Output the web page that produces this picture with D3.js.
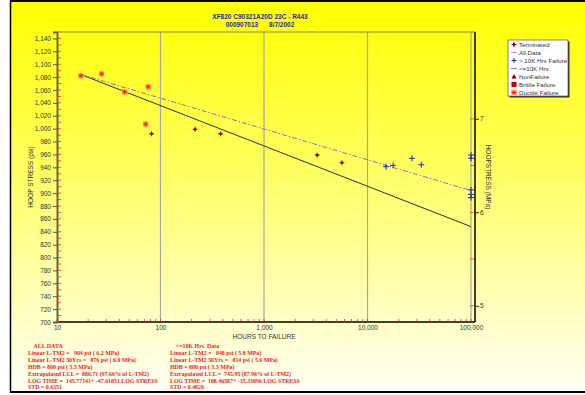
<!DOCTYPE html>
<html>
<head>
<meta charset="utf-8">
<script src="https://cdn.jsdelivr.net/npm/d3@7"></script>
<style>
  body { margin: 0; background: #fff; }
  svg { display: block; }
</style>
</head>
<body>
<div id="chart"></div>
<script>
// ---- data ----
const ductileHours = [17, 27, 45, 76, 72];
const ductilePsi   = [1082, 1085, 1057, 1065, 1007];

const terminatedHours = [82, 216, 381, 3266, 5660];
const terminatedPsi   = [992, 999, 992, 959, 947];

const over10kHours = [15100, 17660, 26900, 33100, 100000, 100000, 100000, 100000, 100000];
const over10kPsi   = [941, 943, 954, 944, 959, 954, 905, 898, 893];

// regression lines (end points)
const allDataLine  = [[17, 1084], [100000, 904]];
const under10kLine = [[17, 1084], [100000, 848]];

const psiTicks = d3.range(700, 1141, 20);
const mpaTicks = [5, 6, 7];
const hourTicks = [10, 100, 1000, 10000, 100000];

const legendItems = ["Terminated", "All Data", "> 10K Hrs Failure", "<=10K Hrs",
                     "NonFailure", "Brittle Failure", "Ductile Failure"];

const notesLeft = [
  "    ALL DATA",
  "Linear L-TM2 =   904 psi ( 6.2 MPa)",
  "Linear L-TM2 50Yrs =   876 psi ( 6.0 MPa)",
  "HDB = 800 psi ( 5.5 MPa)",
  "Extrapolated LCL =  886.71 (97.66% of L-TM2)",
  "LOG TIME =  145.77141+ -47.61851 LOG STRESS",
  "STD = 0.6351"
];
const notesRight = [
  "    <=10K Hrs. Data",
  "Linear L-TM2 =   848 psi ( 5.8 MPa)",
  "Linear L-TM2 50Yrs =   814 psi ( 5.6 MPa)",
  "HDB = 800 psi ( 5.5 MPa)",
  "Extrapolated LCL =  745.95 (87.96% of L-TM2)",
  "LOG TIME =  108.46587+ -35.33096 LOG STRESS",
  "STD = 0.4820"
];

// ---- layout ----
const W = 585, H = 395;
const plotL = 57, plotR = 471, plotT = 32, plotB = 322;
const SANS = "Arial, 'Liberation Sans', sans-serif";

const svg = d3.select("#chart").append("svg")
  .attr("width", W).attr("height", H)
  .attr("font-family", SANS);

const defs = svg.append("defs");
const grad = defs.append("linearGradient").attr("id", "bg")
  .attr("x1", 0).attr("y1", 0).attr("x2", 0).attr("y2", 1);
grad.append("stop").attr("offset", "0%").attr("stop-color", "#ffff00");
grad.append("stop").attr("offset", "45%").attr("stop-color", "#ffff66");
grad.append("stop").attr("offset", "100%").attr("stop-color", "#fffff6");

// panel
svg.append("rect").attr("x", 11).attr("y", 1).attr("width", W - 11).attr("height", 391)
  .attr("fill", "url(#bg)");
svg.append("line").attr("x1", 10).attr("x2", W).attr("y1", 1).attr("y2", 1)
  .attr("stroke", "#000").attr("stroke-width", 2);
svg.append("line").attr("x1", 10.5).attr("x2", 10.5).attr("y1", 0).attr("y2", 393)
  .attr("stroke", "#000").attr("stroke-width", 1.5);
svg.append("line").attr("x1", 10).attr("x2", W).attr("y1", 392).attr("y2", 392)
  .attr("stroke", "#000").attr("stroke-width", 2);

// title
svg.append("text").attr("x", 260).attr("y", 19).attr("text-anchor", "middle")
  .attr("font-size", 6.5).attr("font-weight", "bold").attr("fill", "#2a2aa0")
  .text("XF820 C90321A20D 23C - R443");
svg.append("text").attr("x", 260).attr("y", 27).attr("text-anchor", "middle")
  .attr("font-size", 6.5).attr("font-weight", "bold").attr("fill", "#2a2aa0")
  .attr("xml:space", "preserve")
  .text("000907013      8/7/2002");

// scales
const x = d3.scaleLog().domain([10, 100000]).range([plotL, plotR]);
const y = d3.scaleLinear().domain([700, 1150]).range([plotB, plotT]);
const PSI_PER_MPA = 145.038;
const yM = d3.scaleLinear().domain([700 / PSI_PER_MPA, 1150 / PSI_PER_MPA]).range([plotB, plotT]);

// vertical grid lines
svg.append("g").selectAll("line").data(hourTicks.slice(1)).join("line")
  .attr("x1", d => x(d)).attr("x2", d => x(d))
  .attr("y1", plotT).attr("y2", plotB)
  .attr("stroke", "#a8a8a0").attr("stroke-width", 1.2);

// frame
svg.append("line").attr("x1", plotL).attr("x2", 475).attr("y1", plotT).attr("y2", plotT)
  .attr("stroke", "#8a8a50").attr("stroke-width", 1.2);
svg.append("line").attr("x1", 475).attr("x2", 475).attr("y1", plotT).attr("y2", plotB)
  .attr("stroke", "#000").attr("stroke-width", 1.5);
svg.append("line").attr("x1", plotL).attr("x2", 475).attr("y1", plotB).attr("y2", plotB)
  .attr("stroke", "#000").attr("stroke-width", 1.5);

// left axis
const yAxis = svg.append("g").attr("transform", `translate(${plotL},0)`)
  .call(d3.axisLeft(y).tickValues(psiTicks).tickSize(4).tickPadding(2)
    .tickFormat(d3.format(",")));
yAxis.select(".domain").attr("stroke", "#666640").attr("stroke-width", 2);
yAxis.selectAll(".tick line").attr("stroke", "#555");
yAxis.selectAll(".tick text").attr("font-size", 6.5).attr("fill", "#333")
  .attr("font-family", SANS);
// red inner ticks every 10 psi
svg.append("g").selectAll("line").data(d3.range(700, 1150, 10)).join("line")
  .attr("x1", plotL + 1).attr("x2", plotL + 4)
  .attr("y1", d => y(d)).attr("y2", d => y(d))
  .attr("stroke", "#ff2020").attr("stroke-width", 0.8);

// bottom axis
const xAxis = svg.append("g").attr("transform", `translate(0,${plotB})`)
  .call(d3.axisBottom(x).tickValues(hourTicks).tickSize(0).tickPadding(3)
    .tickFormat(d3.format(",")));
xAxis.select(".domain").remove();
xAxis.selectAll(".tick text").attr("font-size", 6.5).attr("fill", "#333")
  .attr("font-family", SANS);
const minorHours = [];
[10, 100, 1000, 10000].forEach(dec => d3.range(2, 10).forEach(k => minorHours.push(dec * k)));
svg.append("g").selectAll("line").data(minorHours.concat(hourTicks)).join("line")
  .attr("x1", d => x(d)).attr("x2", d => x(d))
  .attr("y1", plotB - 3).attr("y2", plotB)
  .attr("stroke", "#ff2020").attr("stroke-width", 0.8);

// right axis (MPa)
const rAxis = svg.append("g").attr("transform", "translate(475,0)")
  .call(d3.axisRight(yM).tickValues(mpaTicks).tickSize(4).tickPadding(1)
    .tickFormat(d3.format("d")));
rAxis.select(".domain").remove();
rAxis.selectAll(".tick line").attr("stroke", "#222");
rAxis.selectAll(".tick text").attr("font-size", 6.5).attr("fill", "#333")
  .attr("font-family", SANS);
svg.append("g").selectAll("line").data([5, 5.5, 6, 6.5, 7]).join("line")
  .attr("x1", 470).attr("x2", 474)
  .attr("y1", d => yM(d)).attr("y2", d => yM(d))
  .attr("stroke", "#ff3030").attr("stroke-width", 0.8);

// axis titles
svg.append("text").attr("transform", `translate(33,${(plotT + plotB) / 2}) rotate(-90)`)
  .attr("text-anchor", "middle").attr("font-size", 6.5).attr("fill", "#333")
  .text("HOOP STRESS (psi)");
svg.append("text").attr("transform", `translate(486,${(plotT + plotB) / 2}) rotate(90)`)
  .attr("text-anchor", "middle").attr("font-size", 6.5).attr("fill", "#333")
  .text("HOOPSTRESS (MPa)");
svg.append("text").attr("x", 264).attr("y", 339).attr("text-anchor", "middle")
  .attr("font-size", 6.5).attr("fill", "#333").text("HOURS TO FAILURE");

// regression lines
const line = d3.line().x(d => x(d[0])).y(d => y(d[1]));
svg.append("path").datum(under10kLine).attr("d", line)
  .attr("fill", "none").attr("stroke", "#303020").attr("stroke-width", 1);
svg.append("path").datum(allDataLine).attr("d", line)
  .attr("fill", "none").attr("stroke", "#a060e0").attr("stroke-width", 1)
  .attr("stroke-dasharray", "5,2,1.5,2");

// markers
function plus(g, cx, cy, r, color, w) {
  g.append("line").attr("x1", cx - r).attr("x2", cx + r).attr("y1", cy).attr("y2", cy)
    .attr("stroke", color).attr("stroke-width", w);
  g.append("line").attr("x1", cx).attr("x2", cx).attr("y1", cy - r).attr("y2", cy + r)
    .attr("stroke", color).attr("stroke-width", w);
}
function ductileMark(g, cx, cy) {
  g.append("rect").attr("x", cx - 3).attr("y", cy - 3).attr("width", 6).attr("height", 6)
    .attr("fill", "#ffc070").attr("opacity", 0.8);
  plus(g, cx, cy, 2.5, "#ff1010", 1);
  g.append("line").attr("x1", cx - 2).attr("x2", cx + 2).attr("y1", cy - 2).attr("y2", cy + 2)
    .attr("stroke", "#ff1010").attr("stroke-width", 0.8);
  g.append("line").attr("x1", cx - 2).attr("x2", cx + 2).attr("y1", cy + 2).attr("y2", cy - 2)
    .attr("stroke", "#ff1010").attr("stroke-width", 0.8);
}
function terminatedMark(g, cx, cy) {
  plus(g, cx, cy, 2.5, "#e01010", 1);
  g.append("path").attr("d", `M${cx},${cy - 1.8}L${cx + 1.8},${cy}L${cx},${cy + 1.8}L${cx - 1.8},${cy}Z`)
    .attr("fill", "#700000");
}

const marks = svg.append("g");
ductileHours.forEach((h, i) => ductileMark(marks, x(h), y(ductilePsi[i])));
terminatedHours.forEach((h, i) => terminatedMark(marks, x(h), y(terminatedPsi[i])));
over10kHours.forEach((h, i) => plus(marks, x(h), y(over10kPsi[i]), 3, "#2020c0", 1));

// legend
const lg = svg.append("g").attr("transform", "translate(508,40)");
lg.append("rect").attr("x", 1.5).attr("y", 1.5).attr("width", 60).attr("height", 56).attr("fill", "#333");
lg.append("rect").attr("width", 60).attr("height", 56).attr("fill", "#fff")
  .attr("stroke", "#555").attr("stroke-width", 0.7);
legendItems.forEach((name, i) => {
  const cy = 4.5 + i * 8;
  const row = lg.append("g");
  const sx = 6;
  if (i === 0) terminatedMark(row, sx, cy);
  if (i === 1) row.append("line").attr("x1", sx - 3).attr("x2", sx + 3).attr("y1", cy).attr("y2", cy)
    .attr("stroke", "#c090f0").attr("stroke-width", 1.2);
  if (i === 2) plus(row, sx, cy, 2.5, "#2020c0", 1);
  if (i === 3) row.append("line").attr("x1", sx - 3).attr("x2", sx + 3).attr("y1", cy).attr("y2", cy)
    .attr("stroke", "#909090").attr("stroke-width", 1.2);
  if (i === 4) row.append("path").attr("d", `M${sx},${cy - 2.5}L${sx + 2.5},${cy + 2}L${sx - 2.5},${cy + 2}Z`)
    .attr("fill", "#900000");
  if (i === 5) row.append("rect").attr("x", sx - 2.5).attr("y", cy - 2.5).attr("width", 5).attr("height", 5)
    .attr("fill", "#d00000");
  if (i === 6) ductileMark(row, sx, cy);
  row.append("text").attr("x", 11).attr("y", cy + 2.2).attr("font-size", 6.2).attr("fill", "#333")
    .text(name);
});

// notes below the chart
function notes(lines, x0) {
  svg.append("g").selectAll("text").data(lines).join("text")
    .attr("x", x0).attr("y", (d, i) => 348 + i * 6.9)
    .attr("xml:space", "preserve")
    .attr("font-family", "'Liberation Serif', 'DejaVu Serif', serif")
    .attr("font-size", 5.9).attr("font-weight", "bold").attr("fill", "#f02020")
    .text(d => d);
}
notes(notesLeft, 28);
notes(notesRight, 170);
</script>
</body>
</html>
